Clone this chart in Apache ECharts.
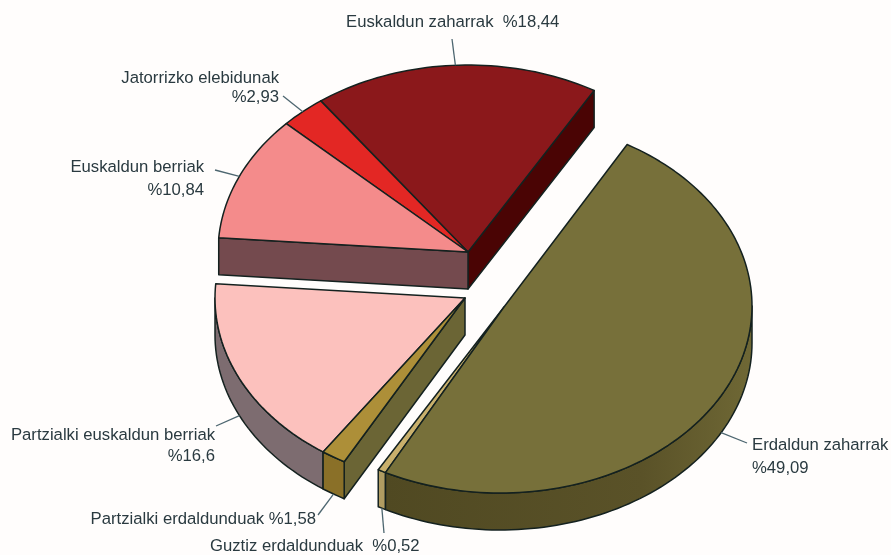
<!DOCTYPE html>
<html>
<head>
<meta charset="utf-8">
<style>
html, body { margin: 0; padding: 0; background: #fffdfc; }
#main { width: 891px; height: 555px; }
</style>
</head>
<body>
<div id="main"></div>
<script src="https://cdn.jsdelivr.net/npm/echarts@6/dist/echarts.min.js"></script>
<script>
const sliceNames = ['Euskaldun zaharrak', 'Jatorrizko elebidunak', 'Euskaldun berriak', 'Partzialki euskaldun berriak', 'Partzialki erdaldunduak', 'Guztiz erdaldunduak', 'Erdaldun zaharrak']
const sliceValues = [18.44, 2.93, 10.84, 16.6, 1.58, 0.52, 49.09]
const valueSeparators = ['  ', '\n', '\n', '\n', ' ', '  ', '\n']

const topColors = ['#8b181b', '#e32724', '#f48b8b', '#fcc1bd', '#ad8f38', '#c9b06c', '#77703a']
const rimColors = ['#4a0404', '#e32724', '#744a4e', '#7d6c70', '#8a7028', '#b09c62', '#5a5228']
const cutColors = ['#4a0404', '#e32724', '#744a4e', '#7d6c70', '#6b6535', '#b09c62', '#5a5228']
const outline = '#14211f'
const leaderColor = '#4d6670'
const textColor = '#2a3a40'

// slices of a group share one apex (the pie is exploded in three pieces)
const groupOf = [0, 0, 0, 1, 1, 2, 2]
const groupCenter = [[468, 252], [465, 298], [500, 306]]
const groupTipShift = [[0, 0], [0, 0], [4, 1]]
const groupRadiusX = [250, 250, 252]
const radiusY = 187
const depth = 37
const startAngle = 59.7

const labelAt = [[346, 22, 'left'], [279, 88, 'right'], [204, 179, 'right'], [215, 446, 'right'], [316, 519, 'right'], [210, 546, 'left'], [752, 457, 'left']]
const labelLine = [18, 19, 23, 21, 18, 18, 23]
const leaderFrom = [[452, 39], [283, 96], [215, 170], [216, 426], [318, 515], [384, 533], [747, 443]]

const rad = d => d * Math.PI / 180
const edge = (g, t, down) => [
    groupCenter[g][0] + groupRadiusX[g] * Math.cos(rad(t)),
    groupCenter[g][1] - radiusY * Math.sin(rad(t)) + (down ? depth : 0)
]

const total = sliceValues.reduce((a, b) => a + b, 0)
let acc = startAngle
const sliceFrom = []
const sliceTo = []
sliceValues.forEach(v => {
    sliceFrom.push(acc)
    acc += v / total * 360
    sliceTo.push(acc)
})

const poly = (points, fill) => ({
    type: 'polygon',
    shape: { points },
    style: { fill, stroke: outline, lineWidth: 1.5, lineJoin: 'round' }
})

const arc = (g, from, to, down) => {
    const pts = []
    const n = Math.max(2, Math.ceil((to - from) / 1.5))
    for (let k = 0; k <= n; k++) pts.push(edge(g, from + (to - from) * k / n, down))
    return pts
}

const renderSlice = (params) => {
    const i = params.dataIndex
    const g = groupOf[i]
    const tip = [groupCenter[g][0] + groupTipShift[g][0], groupCenter[g][1] + groupTipShift[g][1]]
    const tipDown = [tip[0], tip[1] + depth]
    const from = sliceFrom[i]
    const to = sliceTo[i]
    const children = []

    // cut faces, only at the ends of a piece and only those turned to the viewer
    if (groupOf[i - 1] !== g && Math.cos(rad(from)) > 0) {
        children.push(poly([tip, edge(g, from), edge(g, from, true), tipDown], cutColors[i]))
    }
    if (groupOf[i + 1] !== g && Math.cos(rad(to)) < 0) {
        children.push(poly([tip, edge(g, to), edge(g, to, true), tipDown], cutColors[i]))
    }

    // outer rim, front half of the ellipse only
    const rimFrom = Math.max(from, 180)
    const rimTo = Math.min(to, 360)
    if (rimTo > rimFrom) {
        const fill = i === 6 ? {
            type: 'linear', x: 0, y: 0, x2: 1, y2: 0,
            colorStops: [{ offset: 0, color: '#504922' }, { offset: 0.7, color: '#5a5228' }, { offset: 1, color: '#6f6835' }]
        } : rimColors[i]
        children.push(poly(arc(g, rimFrom, rimTo).concat(arc(g, rimFrom, rimTo, true).reverse()), fill))
    }

    // top face
    children.push(poly([tip].concat(arc(g, from, to)), topColors[i]))

    // leader, ends on the rim at the middle of the slice
    const mid = (from + to) / 2
    const end = edge(g, mid, mid > 180 && mid < 360)
    children.push({
        type: 'line',
        shape: { x1: leaderFrom[i][0], y1: leaderFrom[i][1], x2: end[0], y2: end[1] },
        style: { stroke: leaderColor, lineWidth: 1.3 }
    })

    children.push({
        type: 'text',
        x: labelAt[i][0],
        y: labelAt[i][1],
        style: {
            text: sliceNames[i] + valueSeparators[i] + '%' + String(sliceValues[i]).replace('.', ','),
            fill: textColor,
            font: '16.7px "Liberation Sans", Arial, sans-serif',
            align: labelAt[i][2],
            verticalAlign: 'middle',
            lineHeight: labelLine[i]
        }
    })
    return { type: 'group', children }
}

const myChart = echarts.init(document.getElementById('main'))
myChart.setOption({
    backgroundColor: '#fffdfc',
    animation: false,
    series: [{
        type: 'custom',
        coordinateSystem: 'none',
        silent: true,
        clip: false,
        data: sliceValues,
        renderItem: renderSlice
    }]
})
</script>
</body>
</html>
